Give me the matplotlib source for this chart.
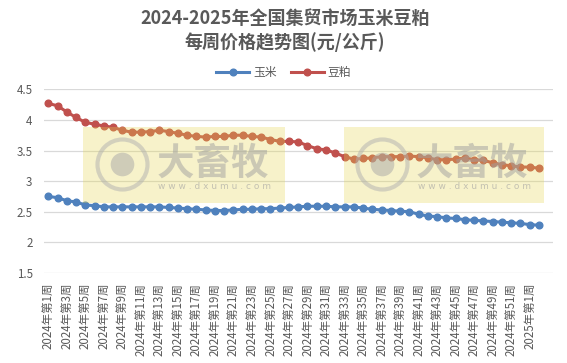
import numpy as np
import matplotlib.pyplot as plt
from matplotlib.patches import Rectangle

plt.rcParams['font.family'] = ['Noto Sans CJK SC', 'DejaVu Sans']

# DATA
weeks = ["2024年第%d周" % i for i in range(1, 53)] + ["2025年第1周", "2025年第2周"]
corn = [2.75, 2.73, 2.68, 2.66, 2.61, 2.60, 2.58, 2.58, 2.58, 2.58,
        2.58, 2.58, 2.58, 2.57, 2.56, 2.55, 2.54, 2.53, 2.52, 2.52,
        2.53, 2.54, 2.54, 2.55, 2.55, 2.56, 2.57, 2.58, 2.59, 2.59,
        2.59, 2.58, 2.58, 2.58, 2.56, 2.54, 2.53, 2.52, 2.51, 2.50,
        2.46, 2.43, 2.42, 2.40, 2.39, 2.37, 2.36, 2.35, 2.34, 2.33,
        2.32, 2.31, 2.29, 2.28]
soymeal = [4.27, 4.23, 4.13, 4.04, 3.96, 3.93, 3.90, 3.88, 3.83, 3.80,
           3.80, 3.81, 3.83, 3.81, 3.78, 3.75, 3.73, 3.72, 3.73, 3.73,
           3.75, 3.75, 3.73, 3.72, 3.68, 3.65, 3.65, 3.64, 3.58, 3.53,
           3.51, 3.46, 3.40, 3.36, 3.37, 3.38, 3.40, 3.40, 3.40, 3.41,
           3.40, 3.38, 3.35, 3.35, 3.36, 3.38, 3.35, 3.34, 3.30, 3.27,
           3.25, 3.23, 3.23, 3.21]
title = "2024-2025年全国集贸市场玉米豆粕\n每周价格趋势图(元/公斤)"

# PLOT
fig = plt.figure(figsize=(5.67, 3.63), dpi=100)
ax = fig.add_axes([0.077, 0.248, 0.898, 0.506])
x = np.arange(len(weeks))

ax.plot(x, corn, color='#4F81BD', lw=2.2, marker='o', ms=4.8, label='玉米', zorder=3)
ax.plot(x, soymeal, color='#C0504D', lw=2.2, marker='o', ms=4.8, label='豆粕', zorder=3)

ax.set_xlim(-0.5, 54.5)
ax.set_ylim(1.5, 4.5)
ax.set_yticks([1.5, 2, 2.5, 3, 3.5, 4, 4.5])
ax.set_yticklabels(['1.5', '2', '2.5', '3', '3.5', '4', '4.5'])
ax.set_xticks(x[::2])
ax.set_xticklabels(weeks[::2], rotation=90)
ax.tick_params(axis='both', length=0, labelsize=8.3, labelcolor='#595959')
ax.tick_params(axis='x', pad=7)
ax.tick_params(axis='y', pad=8)
ax.grid(axis='y', color='#d9d9d9', lw=0.9)
ax.set_axisbelow(True)
for s in ax.spines.values():
    s.set_visible(False)

# watermark boxes
for (x0, x1, cx, tx) in [(3.76, 25.6, 8.0, 11.7), (31.9, 53.5, 36.0, 39.7)]:
    ax.add_patch(Rectangle((x0, 2.64), x1 - x0, 1.24, facecolor='#E6D750',
                           alpha=0.3, edgecolor='none', zorder=4))
    ax.plot([cx], [3.28], marker='o', ms=36, mfc='none', mec='#b0b0b0',
            mew=3, alpha=0.5, zorder=5)
    ax.plot([cx], [3.28], marker='o', ms=17, mfc='#a8a8a8', mec='none',
            alpha=0.5, zorder=5)
    ax.text(tx, 3.30, '大畜牧', fontsize=27, fontweight='bold', color='#a0a0a0',
            alpha=0.5, va='center', ha='left', zorder=5)
    ax.text(tx + 0.2, 2.92, 'w w w . d x u m u . c o m', fontsize=6.5,
            color='#a0a0a0', alpha=0.6, va='center', ha='left', zorder=5,
            family=['DejaVu Sans'])

fig.text(0.503, 0.975, title, ha='center', va='top', fontsize=13,
         fontweight='bold', color='#595959', linespacing=1.25)
fig.legend(loc='center', bbox_to_anchor=(0.5, 0.8), ncol=2, frameon=False,
           fontsize=8.5, labelcolor='#595959', handlelength=2.8,
           columnspacing=1.2, handletextpad=0.3)

fig.savefig('out.png', dpi=100)
